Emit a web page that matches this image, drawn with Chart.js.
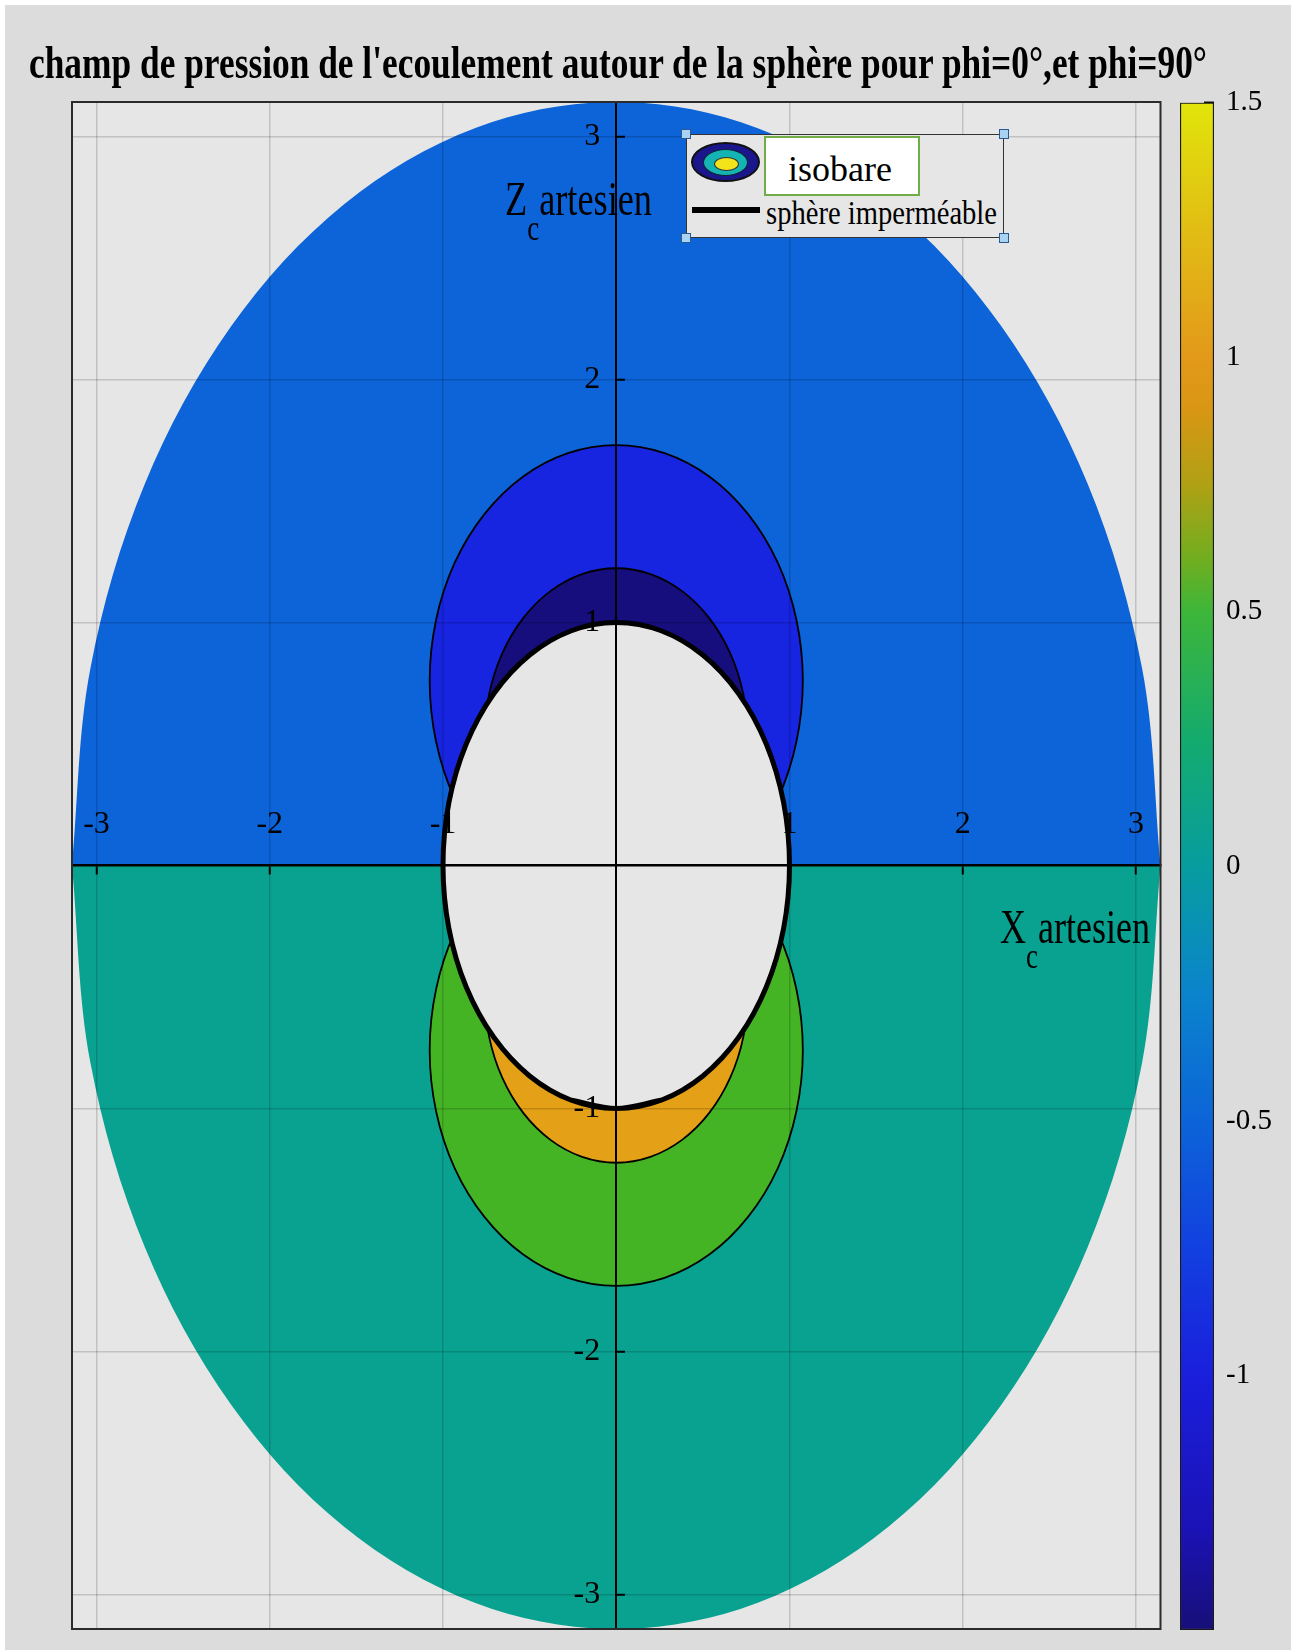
<!DOCTYPE html>
<html>
<head>
<meta charset="utf-8">
<script src="https://cdn.jsdelivr.net/npm/chart.js@4.4.1/dist/chart.umd.min.js"></script>
<style>
  html, body { margin: 0; padding: 0; }
  #page { position: absolute; left: 0; top: 0; width: 1291px; height: 1650px; background: #dcdcdc; overflow: hidden; }
  canvas { position: absolute; }
  .abs { position: absolute; }
  .serif { font-family: 'Liberation Serif', 'Times New Roman', serif; color: #000; white-space: nowrap; line-height: 1; transform-origin: 0 0; }
  .sub { font-size: 26px; position: relative; top: 17.5px; }
  .handle { position: absolute; width: 10px; height: 10px; background: #a9d3f2; border: 1px solid #2a5a92; box-sizing: border-box; }
  .oval { position: absolute; border-radius: 50%; box-sizing: border-box; }
</style>
</head>
<body>
<div id="page">
  <div class="abs" style="left:0;top:0;width:1291px;height:5px;background:#fff"></div>
  <div class="abs" style="left:0;top:0;width:5px;height:1650px;background:#fff"></div>

  <canvas id="main" width="1291" height="1650" style="left:0;top:0"></canvas>
  <canvas id="cbar" width="131" height="1620" style="left:1160px;top:50px"></canvas>

  <div class="abs serif fit" data-w="1178" data-sy="1.65" style="left:29px;top:40.3px;font-size:28px;font-weight:bold">champ de pression de l'ecoulement autour de la sphère pour phi=0°,et phi=90°</div>

  <div class="abs serif fit" data-w="147" data-sy="1.41" style="left:505px;top:173.7px;font-size:35px">Z<span class="sub">c</span>artesien</div>
  <div class="abs serif fit" data-w="150" data-sy="1.41" style="left:1000px;top:901.7px;font-size:35px">X<span class="sub">c</span>artesien</div>

  <!-- legend -->
  <div class="abs" style="left:686px;top:134px;width:318px;height:104px;border:1.5px solid #333;background:#e6e6e6;box-sizing:border-box"></div>
  <div class="oval" style="left:691px;top:142px;width:69px;height:40px;background:#1b168c;border:2px solid #111"></div>
  <div class="oval" style="left:703px;top:148.5px;width:45px;height:27px;background:#14b4b4;border:1.5px solid #123"></div>
  <div class="oval" style="left:714px;top:156.5px;width:25px;height:14px;background:#f2e31b;border:1px solid #333"></div>
  <div class="abs" style="left:692px;top:207px;width:68px;height:5.5px;background:#000"></div>
  <div class="abs" style="left:764px;top:136px;width:156px;height:60px;border:2px solid #70ad47;background:#fff;box-sizing:border-box"></div>
  <div class="abs serif" style="left:788px;top:150.8px;font-size:36px">isobare</div>
  <div class="abs serif fit" data-w="231" data-sy="1.22" style="left:766px;top:195.7px;font-size:28px">sphère imperméable</div>
  <div class="handle" style="left:681px;top:129px"></div>
  <div class="handle" style="left:999px;top:129px"></div>
  <div class="handle" style="left:681px;top:233px"></div>
  <div class="handle" style="left:999px;top:233px"></div>
</div>

<script>
// axes: both run from -pi to pi, crossing at the origin
const AXIS_MAX = Math.PI;
const xTicks = [-3, -2, -1, 1, 2, 3];
const xTickLabels = ['-3', '-2', '-1', '1', '2', '3'];
const zTicks = [-3, -2, -1, 1, 2, 3];
const zTickLabels = ['-3', '-2', '-1', '1', '2', '3'];

// outer region (radius pi), upper half phi=0 / lower half phi=90
const diskX = [-3.142, -3.035, -2.721, -2.221, -1.571, -0.813, 0, 0.813, 1.571, 2.221, 2.721, 3.035, 3.142];
const diskZtop = [0, 0.813, 1.571, 2.221, 2.721, 3.035, 3.142, 3.035, 2.721, 2.221, 1.571, 0.813, 0];
const diskZbot = [0, -0.813, -1.571, -2.221, -2.721, -3.035, -3.142, -3.035, -2.721, -2.221, -1.571, -0.813, 0];

// first isobar around the sphere
const outerX = [0, 0.279, 0.539, 0.761, 0.933, 1.040, 1.077, 1.040, 0.933, 0.761, 0.539, 0.279, 0,
  -0.279, -0.539, -0.761, -0.933, -1.040, -1.077, -1.040, -0.933, -0.761, -0.539, -0.279, 0];
const outerZtop = [-0.21, -0.177, -0.08, 0.074, 0.275, 0.509, 0.76, 1.011, 1.245, 1.446, 1.60, 1.697, 1.73,
  1.697, 1.60, 1.446, 1.245, 1.011, 0.76, 0.509, 0.275, 0.074, -0.08, -0.177, -0.21];
const outerZbot = [0.21, 0.177, 0.08, -0.074, -0.275, -0.509, -0.76, -1.011, -1.245, -1.446, -1.60, -1.697, -1.73,
  -1.697, -1.60, -1.446, -1.245, -1.011, -0.76, -0.509, -0.275, -0.074, 0.08, 0.177, 0.21];

// second isobar, closer to the sphere
const innerX = [0, 0.197, 0.38, 0.537, 0.658, 0.734, 0.76, 0.734, 0.658, 0.537, 0.38, 0.197, 0,
  -0.197, -0.38, -0.537, -0.658, -0.734, -0.76, -0.734, -0.658, -0.537, -0.38, -0.197, 0];
const innerZtop = [-0.177, -0.153, -0.083, 0.028, 0.173, 0.342, 0.523, 0.704, 0.873, 1.018, 1.129, 1.199, 1.223,
  1.199, 1.129, 1.018, 0.873, 0.704, 0.523, 0.342, 0.173, 0.028, -0.083, -0.153, -0.177];
const innerZbot = [0.177, 0.153, 0.083, -0.028, -0.173, -0.342, -0.523, -0.704, -0.873, -1.018, -1.129, -1.199, -1.223,
  -1.199, -1.129, -1.018, -0.873, -0.704, -0.523, -0.342, -0.173, -0.028, 0.083, 0.153, 0.177];

// impermeable sphere, r = 1 (the ends overlap a little so the outline closes smoothly)
const sphereX = [-0.259, 0, 0.259, 0.5, 0.707, 0.866, 0.966, 1, 0.966, 0.866, 0.707, 0.5, 0.259, 0,
  -0.259, -0.5, -0.707, -0.866, -0.966, -1, -0.966, -0.866, -0.707, -0.5, -0.259, 0, 0.259];
const sphereZ = [-0.966, -1, -0.966, -0.866, -0.707, -0.5, -0.259, 0, 0.259, 0.5, 0.707, 0.866, 0.966, 1,
  0.966, 0.866, 0.707, 0.5, 0.259, 0, -0.259, -0.5, -0.707, -0.866, -0.966, -1, -0.966];

// colorbar
const cbMin = -1.5;
const cbMax = 1.5;
const cbTicks = [-1, -0.5, 0, 0.5, 1, 1.5];
const cbTickLabels = ['-1', '-0.5', '0', '0.5', '1', '1.5'];
const cbStops = [-1.5, -1.3, -1, -0.75, -0.5, -0.25, 0, 0.25, 0.5, 0.6, 0.75, 0.9, 1, 1.25, 1.5];
const cbColors = ['#170f78', '#1b12b6', '#1a1fdc', '#1240e0', '#0c64d8', '#0a84cc', '#079d9f', '#14ab6e',
  '#3db63a', '#6fae20', '#b0a114', '#d99614', '#e3991a', '#e1bd14', '#e1e50b'];

const SERIF = "'Liberation Serif', 'Times New Roman', serif";
const PLOT_BG = '#e6e6e6';

// stretch the html labels to the reference's boxes
document.querySelectorAll('.fit').forEach(el => {
  const w = el.getBoundingClientRect().width;
  el.style.transform = 'scale(' + (el.dataset.w / w) + ',' + (el.dataset.sy || 1) + ')';
});

const pts = (xs, zs) => xs.map((x, i) => ({ x: x, y: zs[i] }));

function region(label, xs, zs, color, order, edge) {
  return {
    label: label,
    data: pts(xs, zs),
    order: order,
    fill: 'shape',
    backgroundColor: color,
    borderColor: edge ? '#000' : 'rgba(0,0,0,0)',
    borderWidth: edge || 1,
    tension: 0.34,
    pointRadius: 0
  };
}

const plotFrame = {
  id: 'plotFrame',
  beforeDraw(chart) {
    const { ctx, chartArea: a } = chart;
    ctx.save();
    ctx.fillStyle = PLOT_BG;
    ctx.fillRect(a.left, a.top, a.right - a.left, a.bottom - a.top);
    ctx.restore();
  },
  afterDraw(chart) {
    const { ctx, chartArea: a } = chart;
    ctx.save();
    ctx.strokeStyle = '#2b2b2b';
    ctx.lineWidth = 2;
    ctx.strokeRect(a.left, a.top, a.right - a.left, a.bottom - a.top);
    ctx.restore();
  }
};

// grid, axis lines and labels are drawn over the filled regions
const axisGrid = { color: 'rgba(0,0,0,0.16)', lineWidth: 1.5, tickColor: '#000', tickWidth: 2, z: 1 };
const tickFont = { family: SERIF, size: 32 };

new Chart(document.getElementById('main'), {
  type: 'line',
  data: {
    datasets: [
      region('p phi=0', diskX, diskZtop, '#0d64d9', 4, 0),
      region('p phi=90', diskX, diskZbot, '#09a291', 4, 0),
      region('isobare 1 haut', outerX, outerZtop, '#1724e0', 3, 1.8),
      region('isobare 1 bas', outerX, outerZbot, '#44b425', 3, 1.8),
      region('isobare 2 haut', innerX, innerZtop, '#150e7c', 2, 1.8),
      region('isobare 2 bas', innerX, innerZbot, '#e4a017', 2, 1.8),
      region('sphère imperméable', sphereX, sphereZ, PLOT_BG, 1, 5)
    ]
  },
  options: {
    responsive: false,
    animation: false,
    devicePixelRatio: 1,
    events: [],
    layout: { padding: { left: 72, top: 102, right: 130.5, bottom: 21 } },
    plugins: { legend: { display: false }, tooltip: { enabled: false } },
    scales: {
      x: {
        type: 'linear',
        min: -AXIS_MAX,
        max: AXIS_MAX,
        position: { y: 0 },
        afterBuildTicks: s => { s.ticks = xTicks.map(v => ({ value: v })); },
        grid: Object.assign({ tickLength: 8 }, axisGrid),
        border: { color: '#000', width: 2.5, z: 1 },
        ticks: {
          font: tickFont,
          color: '#000',
          padding: -68,
          maxRotation: 0,
          autoSkip: false,
          z: 1,
          callback: (v, i) => xTickLabels[i]
        }
      },
      y: {
        type: 'linear',
        min: -AXIS_MAX,
        max: AXIS_MAX,
        position: { x: 0 },
        afterBuildTicks: s => { s.ticks = zTicks.map(v => ({ value: v })); },
        grid: Object.assign({ tickLength: -10 }, axisGrid),
        border: { color: '#000', width: 2, z: 1 },
        ticks: {
          font: tickFont,
          color: '#000',
          padding: 0,
          autoSkip: false,
          z: 1,
          callback: (v, i) => zTickLabels[i] + '\u2002'
        }
      }
    }
  },
  plugins: [plotFrame]
});

// colorbar: one floating bar painted with the colormap
function cbGradient(context) {
  const chart = context.chart;
  const y = chart.scales.y;
  if (!chart.chartArea || !y) return cbColors[0];
  const g = chart.ctx.createLinearGradient(0, y.getPixelForValue(cbMin), 0, y.getPixelForValue(cbMax));
  cbStops.forEach((v, i) => g.addColorStop((v - cbMin) / (cbMax - cbMin), cbColors[i]));
  return g;
}

new Chart(document.getElementById('cbar'), {
  type: 'bar',
  data: {
    labels: [''],
    datasets: [{
      data: [[cbMin, cbMax]],
      backgroundColor: cbGradient,
      borderColor: '#1a1a1a',
      borderWidth: 1.5,
      borderSkipped: false,
      barPercentage: 1,
      categoryPercentage: 1
    }]
  },
  options: {
    responsive: false,
    animation: false,
    devicePixelRatio: 1,
    events: [],
    layout: { padding: { left: 20, top: 52.7, right: 0, bottom: 40 } },
    plugins: { legend: { display: false }, tooltip: { enabled: false } },
    scales: {
      x: { display: false },
      y: {
        position: 'right',
        min: cbMin,
        max: cbMax,
        afterBuildTicks: s => { s.ticks = cbTicks.map(v => ({ value: v })); },
        afterFit: s => { s.width = 77; },
        grid: { drawOnChartArea: false, tickLength: -10, tickColor: '#111', tickWidth: 2 },
        border: { display: false },
        ticks: {
          font: { family: SERIF, size: 29 },
          color: '#000',
          padding: 22,
          callback: (v, i) => cbTickLabels[i]
        }
      }
    }
  }
});
</script>
</body>
</html>
